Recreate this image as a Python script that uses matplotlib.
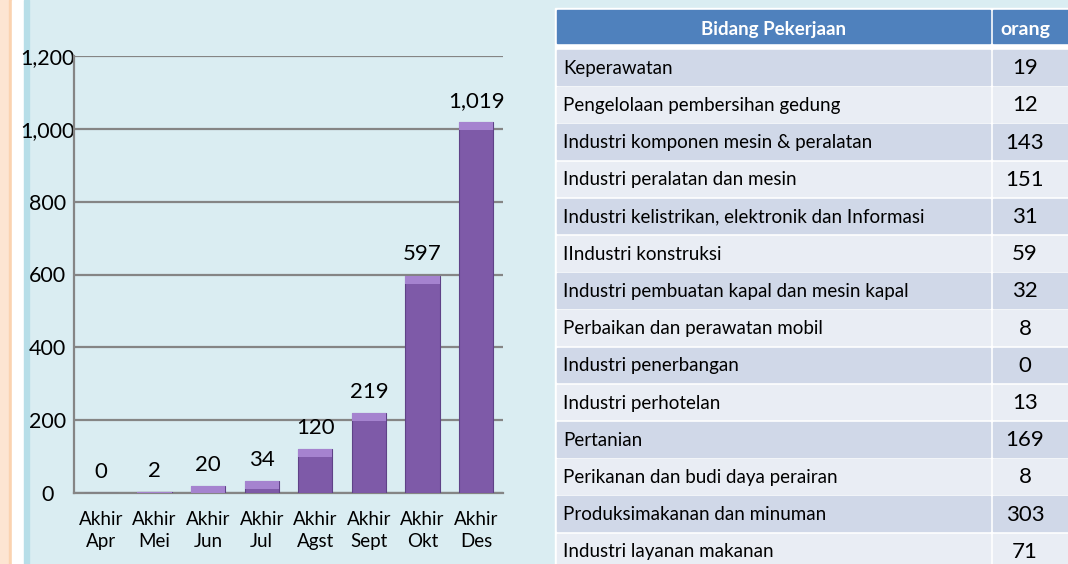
"""Bar chart of participants per month plus a table of job fields."""
import matplotlib.pyplot as plt
from matplotlib.patches import Rectangle
from matplotlib.ticker import FuncFormatter

OUTPUT_FILENAME = 'out.png'

# Chart data
months = ['Akhir\nApr', 'Akhir\nMei', 'Akhir\nJun', 'Akhir\nJul',
          'Akhir\nAgst', 'Akhir\nSept', 'Akhir\nOkt', 'Akhir\nDes']
totals = [0, 2, 20, 34, 120, 219, 597, 1019]
y_ticks = [0, 200, 400, 600, 800, 1000, 1200]

# Table data
table_header = ['Bidang Pekerjaan', 'orang']
job_fields = [
    'Keperawatan',
    'Pengelolaan pembersihan gedung',
    'Industri komponen mesin & peralatan',
    'Industri peralatan dan mesin',
    'Industri kelistrikan, elektronik dan Informasi',
    'IIndustri konstruksi',
    'Industri pembuatan kapal dan mesin kapal',
    'Perbaikan dan perawatan mobil',
    'Industri penerbangan',
    'Industri perhotelan',
    'Pertanian',
    'Perikanan dan budi daya perairan',
    'Produksimakanan dan minuman',
    'Industri layanan makanan',
]
job_counts = [19, 12, 143, 151, 31, 59, 32, 8, 0, 13, 169, 8, 303, 71]

FONT = ['Lato', 'DejaVu Sans']
BG = '#DAEDF2'
BAR_COLOR = '#7E5AA8'
CAP_COLOR = '#A583CF'
HEADER_COLOR = '#4F81BD'
ROW_DARK = '#D0D8E8'
ROW_LIGHT = '#E9EDF4'

W, H = 1068, 564
plt.rcParams['font.family'] = FONT

fig = plt.figure(figsize=(W / 100, H / 100), dpi=100, facecolor=BG)

# Decorative strips on the left edge (kept behind everything)
def px_rect(x0, x1, color):
    fig.patches.append(Rectangle((x0 / W, 0), (x1 - x0) / W, 1,
                                 transform=fig.transFigure, color=color, zorder=-5))

px_rect(0, 9, '#FDE5D2')
px_rect(9, 12, '#FBD3B0')
px_rect(12, 24, 'white')
px_rect(24, 29, '#B7DEE8')

# ---- bar chart ----
left, right, top, bottom = 74, 503, 56, 493
ax = fig.add_axes([left / W, (H - bottom) / H, (right - left) / W, (bottom - top) / H])
ax.set_facecolor('none')
positions = list(range(len(months)))
ax.bar(positions, totals, width=0.64, color=BAR_COLOR, edgecolor='#5F4287',
       linewidth=0.8, zorder=3)
# lighter bevel on top of each bar
cap = 22
ax.bar(positions, [min(v, cap) for v in totals],
       bottom=[max(v - cap, 0) for v in totals], width=0.64,
       color=CAP_COLOR, linewidth=0, zorder=4)
for x, v in zip(positions, totals):
    ax.annotate(f'{v:,}', (x, v), xytext=(0, 8), textcoords='offset points',
                ha='center', va='bottom', fontsize=16, color='black', zorder=5)

ax.set_xlim(-0.5, len(months) - 0.5)
ax.set_ylim(0, 1200)
ax.set_yticks(y_ticks)
ax.yaxis.set_major_formatter(FuncFormatter(lambda v, pos: f'{v:,.0f}'))
ax.grid(axis='y', color='#858585', linewidth=1.6, zorder=1)
ax.set_xticks(positions)
ax.set_xticklabels(months, fontsize=13.5, linespacing=1.38)
ax.tick_params(axis='x', length=0, pad=13)
ax.tick_params(axis='y', length=0, pad=19, labelsize=15.5)
for lbl in ax.get_yticklabels():
    lbl.set_horizontalalignment('center')
for side in ['top', 'right']:
    ax.spines[side].set_visible(False)
for side in ['left', 'bottom']:
    ax.spines[side].set_color('#858585')
    ax.spines[side].set_linewidth(1.6)

# ---- table ----
tab = fig.add_axes([0, 0, 1, 1], zorder=-1)
tab.set_xlim(0, W)
tab.set_ylim(H, 0)
tab.axis('off')
tab.add_patch(Rectangle((555, 8), W - 555, H - 8, color='white', zorder=0))

col1_x0, col1_x1 = 557, 990
col2_x0, col2_x1 = 993, W + 5
head_top, head_bot = 10, 43
tab.add_patch(Rectangle((col1_x0, head_top), col1_x1 - col1_x0, head_bot - head_top,
                        color=HEADER_COLOR, zorder=1))
tab.add_patch(Rectangle((col2_x0, head_top), col2_x1 - col2_x0, head_bot - head_top,
                        color=HEADER_COLOR, zorder=1))
tab.text((col1_x0 + col1_x1) / 2, (head_top + head_bot) / 2 + 3, table_header[0],
         ha='center', va='center', color='white', fontsize=13.5, fontweight='bold')
tab.text(1025, (head_top + head_bot) / 2 + 3, table_header[1],
         ha='center', va='center', color='white', fontsize=14, fontweight='bold')

row_top0, pitch, row_h = 50, 37.2, 34.5
for i, (name, count) in enumerate(zip(job_fields, job_counts)):
    y0 = row_top0 + i * pitch
    color = ROW_DARK if i % 2 == 0 else ROW_LIGHT
    tab.add_patch(Rectangle((col1_x0, y0), col1_x1 - col1_x0, row_h, color=color, zorder=1))
    tab.add_patch(Rectangle((col2_x0, y0), col2_x1 - col2_x0, row_h, color=color, zorder=1))
    tab.text(563, y0 + row_h / 2 + 1, name, ha='left', va='center',
             fontsize=13.5, color='black')
    tab.text(1025, y0 + row_h / 2 + 1, str(count), ha='center', va='center',
             fontsize=16, color='black')

fig.savefig(OUTPUT_FILENAME, dpi=100, facecolor=BG)
plt.close(fig)
